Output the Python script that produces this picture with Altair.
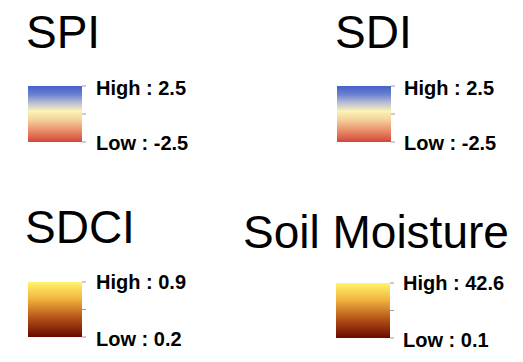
import altair as alt
import pandas as pd

# ---- data ----
names = ["SPI", "SDI", "SDCI", "Soil Moisture"]
lows = [-2.5, -2.5, 0.2, 0.1]
highs = [2.5, 2.5, 0.9, 42.6]
high_labels = ["High : 2.5", "High : 2.5", "High : 0.9", "High : 42.6"]
low_labels = ["Low : -2.5", "Low : -2.5", "Low : 0.2", "Low : 0.1"]

# ---- layout (pixels) ----
layout = [
    dict(tx=26, tb=48, bx=28, top=86, bot=142, lx=96, hb=95, lb=150),
    dict(tx=335, tb=48, bx=337, top=86, bot=142, lx=404, hb=95, lb=150),
    dict(tx=25, tb=243, bx=28, top=282, bot=337, lx=96, hb=289, lb=346),
    dict(tx=243, tb=248, bx=336, top=283, bot=338, lx=403, hb=290, lb=347),
]
BOX_W = 54

# ---- colour ramps (bottom -> top) ----
diverging = [(0.0, "#d3463a"), (0.2, "#e98c68"), (0.4, "#f6d29c"), (0.55, "#fbf3b4"),
             (0.7, "#b9bed6"), (0.85, "#6a80cc"), (1.0, "#4461cc")]
brown = [(0.0, "#6a0801"), (0.35, "#b55418"), (0.7, "#f2b540"), (1.0, "#fff46c")]
ramps = [diverging, diverging, brown, brown]

FONT = "Liberation Sans"

layers = []
for i, name in enumerate(names):
    L = layout[i]
    lo, hi = lows[i], highs[i]
    df = pd.DataFrame({"name": [name], "low": [lo], "high": [hi],
                       "hl": [high_labels[i]], "ll": [low_labels[i]]})
    ticks = pd.DataFrame({"v": [lo, (lo + hi) / 2, hi]})
    ysc = alt.Scale(domain=[lo, hi], range=[L["bot"], L["top"]], nice=False, zero=False)

    grad = alt.LinearGradient(
        gradient="linear",
        stops=[alt.GradientStop(offset=o, color=c) for o, c in ramps[i]],
        x1=0, x2=0, y1=1, y2=0,
    )

    rect = alt.Chart(df).mark_rect(fill=grad).encode(
        x=alt.value(L["bx"]), x2=alt.value(L["bx"] + BOX_W),
        y=alt.Y("low:Q", scale=ysc, axis=None), y2="high:Q",
    )
    tk = alt.Chart(ticks).mark_rule(color="#9a9a9a", strokeWidth=1).encode(
        x=alt.value(L["bx"] + BOX_W), x2=alt.value(L["bx"] + BOX_W + 4),
        y=alt.Y("v:Q", scale=ysc, axis=None),
    )
    hlab = alt.Chart(df).mark_text(
        align="left", baseline="alphabetic", font=FONT, fontSize=20,
        fontWeight="bold", color="#000000", dy=L["hb"] - L["top"],
    ).encode(x=alt.value(L["lx"]), y=alt.Y("high:Q", scale=ysc, axis=None), text="hl:N")
    llab = alt.Chart(df).mark_text(
        align="left", baseline="alphabetic", font=FONT, fontSize=20,
        fontWeight="bold", color="#000000", dy=L["lb"] - L["bot"],
    ).encode(x=alt.value(L["lx"]), y=alt.Y("low:Q", scale=ysc, axis=None), text="ll:N")
    title = alt.Chart(df).mark_text(
        align="left", baseline="alphabetic", font=FONT, fontSize=46, color="#000000",
    ).encode(x=alt.value(L["tx"]), y=alt.value(L["tb"]), text="name:N")

    layers += [rect, tk, hlab, llab, title]

chart = alt.layer(*layers).resolve_scale(y="independent").properties(
    width=523, height=362, autosize="none", padding=0, background="white"
).configure_view(stroke=None)

chart.save("out.html", embed_options={"renderer": "svg", "actions": False})
